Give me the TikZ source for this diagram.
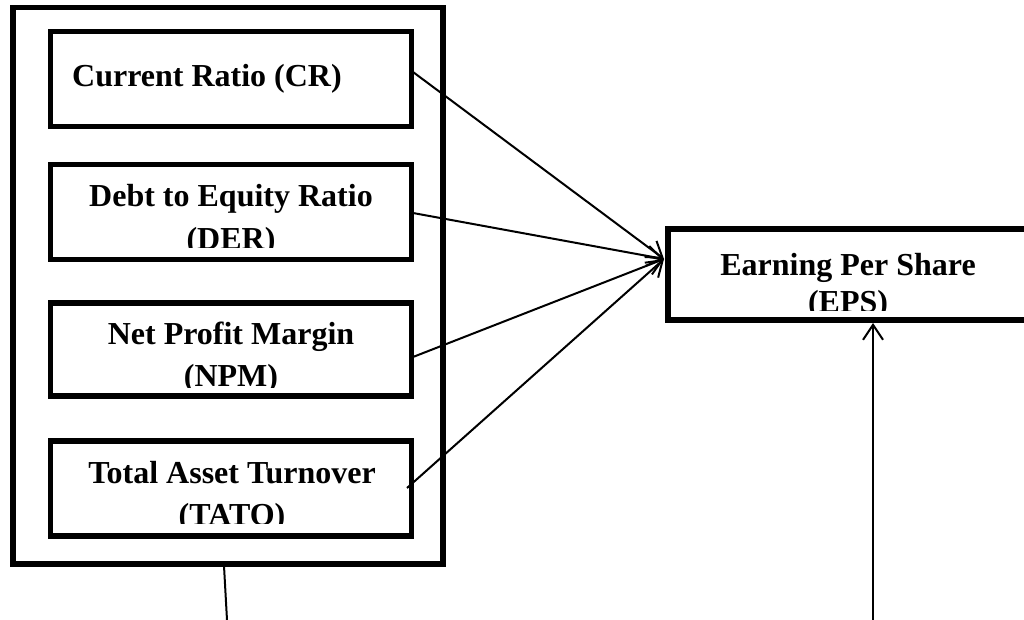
\documentclass[tikz,border=0pt]{standalone}
\usepackage{fontspec}
\setmainfont{Liberation Serif}
\usetikzlibrary{arrows.meta}
\begin{document}
\begin{tikzpicture}[x=1pt,y=-1pt,
  box/.style={draw=black,line width=5.5pt,rectangle,inner sep=0pt,minimum width=361pt},
  lbl/.style={inner sep=0pt,anchor=base,font=\fontsize{32}{42}\selectfont\bfseries},
  conn/.style={line width=2pt,-{Straight Barb[length=15pt,width=20pt,line width=2pt]}},
  plain/.style={line width=2pt}]
\useasboundingbox (0,0) rectangle (1024,620);
% outer frame
\node[box,minimum width=430pt,minimum height=556.5pt] (outer) at (228,285.75) {};
% inner boxes
\node[box,minimum height=95pt] (cr) at (231,79) {};
\node[box,minimum height=95pt] (der) at (231,212) {};
\node[box,minimum height=93pt] (npm) at (231,349.5) {};
\node[box,minimum height=95pt] (tato) at (231,488.5) {};
\node[box,minimum width=362pt,minimum height=91pt] (eps) at (849,274.5) {};
% texts
\node[lbl,anchor=base west] (crt) at (72,87) {Current Ratio (CR)};
\begin{scope}
  \clip (53,167) rectangle (409,247);
  \node[lbl] (der1) at (231,207) {Debt to Equity Ratio};
  \node[lbl] (der2) at (231,249) {(DER)};
\end{scope}
\begin{scope}
  \clip (53,306) rectangle (409,387);
  \node[lbl] (npm1) at (231,344) {Net Profit Margin};
  \node[lbl] (npm2) at (231,386) {(NPM)};
\end{scope}
\begin{scope}
  \clip (53,444) rectangle (409,523);
  \node[lbl] (tato1) at (232,483) {Total Asset Turnover};
  \node[lbl] (tato2) at (232,525) {(TATO)};
\end{scope}
\begin{scope}
  \clip (671,232) rectangle (1024,310);
  \node[lbl] (eps1) at (848,275) {Earning Per Share};
  \node[lbl] (eps2) at (848,312) {(EPS)};
\end{scope}
% connector end points
\coordinate (cra) at (413,72);
\coordinate (dera) at (413,213);
\coordinate (npma) at (413,357);
\coordinate (tatoa) at (407,488);
\coordinate (conv) at (664,259);
\coordinate (epsb) at (873,323);
\coordinate (botl) at (227,620);
\coordinate (botr) at (873,620);
\coordinate (outb) at (224,566);
\draw[conn] (cra) -- (conv);
\draw[conn] (dera) -- (conv);
\draw[conn] (npma) -- (conv);
\draw[conn] (tatoa) -- (conv);
\draw[conn] (botr) -- (epsb);
\draw[plain] (outb) -- (botl);
\end{tikzpicture}
\end{document}
